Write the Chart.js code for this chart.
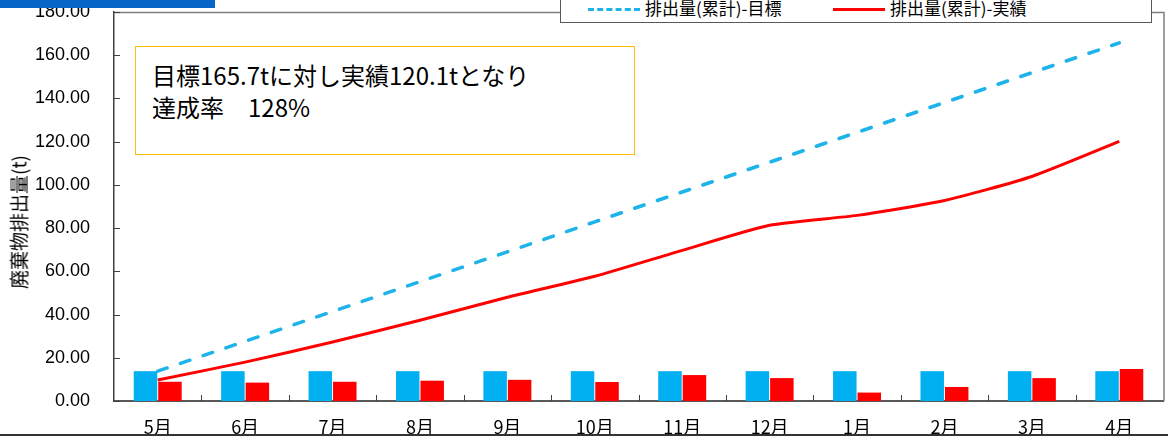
<!DOCTYPE html>
<html>
<head>
<meta charset="utf-8">
<script src="https://cdn.jsdelivr.net/npm/chart.js@4"></script>
<style>
  body { margin: 0; background: #fff; }
  #wrap { position: relative; width: 1168px; height: 436px; overflow: hidden; font-family: "Noto Sans CJK JP", "Noto Sans", sans-serif; }
  canvas { position: absolute; left: 0; top: 0; }
  .topbar { position: absolute; left: 0; top: 0; width: 215px; height: 8px; background: #0566c6; }
  .note { position: absolute; left: 135px; top: 46px; width: 498px; height: 107px; border: 1px solid #ffc000; background: #fff; }
  .note div { position: absolute; left: 16px; font-size: 24px; color: #000; white-space: nowrap; }
  .legend { position: absolute; left: 560px; top: -4px; width: 590px; height: 25px; border: 1px solid #595959; background: #fff; }
  .legend .item { position: absolute; top: 1px; font-size: 17px; line-height: 20px; white-space: nowrap; }
  .legend .dash { position: absolute; top: 11px; width: 52px; height: 0; border-top: 3px dashed #1eb4ea; }
  .legend .solid { position: absolute; top: 11px; width: 52px; height: 3px; background: #ff0000; }
  .ytitle { position: absolute; left: 18px; top: 222px; transform: translate(-50%, -50%) rotate(-90deg); font-size: 19px; white-space: nowrap; }
</style>
</head>
<body>
<div id="wrap">
  <canvas id="wasteChart" width="1168" height="436"></canvas>
  <div class="topbar"></div>
  <div class="legend">
    <span class="dash" style="left:27px"></span>
    <span class="item" style="left:84px">排出量(累計)-目標</span>
    <span class="solid" style="left:272px"></span>
    <span class="item" style="left:329px">排出量(累計)-実績</span>
  </div>
  <div class="note">
    <div style="top:10px">目標165.7tに対し実績120.1tとなり</div>
    <div style="top:42px">達成率　128%</div>
  </div>
  <div class="ytitle">廃棄物排出量(t)</div>
</div>
<script>
// 月
const months = ['5月', '6月', '7月', '8月', '9月', '10月', '11月', '12月', '1月', '2月', '3月', '4月'];

// 月別の排出量 (t)
const targetMonthly = [13.8, 13.8, 13.8, 13.8, 13.8, 13.8, 13.8, 13.8, 13.8, 13.8, 13.8, 13.8];
const actualMonthly = [8.9, 8.5, 8.9, 9.4, 9.8, 8.8, 12.0, 10.6, 3.9, 6.5, 10.6, 14.8];

// 累計 (t)
const targetCumulative = [13.8, 27.6, 41.4, 55.2, 69.0, 82.9, 96.7, 110.5, 124.3, 138.1, 151.9, 165.7];
const actualCumulative = [9.7, 18.0, 27.3, 37.4, 48.0, 57.7, 69.7, 81.3, 85.9, 92.8, 103.9, 120.1];

// 軸の目盛り
const yMin = 0;
const yMax = 180;
const yStep = 20;

// 枠線と内向きの目盛りを描く
const framePlugin = {
    id: 'frame',
    afterDraw(chart) {
        const c = chart.ctx;
        const a = chart.chartArea;
        const ys = chart.scales.y;
        c.save();
        c.strokeStyle = '#7f7f7f';
        c.lineWidth = 1.5;
        c.beginPath();
        c.moveTo(a.left, a.top + 0.5);
        c.lineTo(a.right + 1, a.top + 0.5);
        c.lineTo(a.right + 1, a.bottom);
        c.stroke();

        c.strokeStyle = '#404040';
        c.lineWidth = 1;
        ys.ticks.forEach((t) => {
            const y = Math.round(ys.getPixelForValue(t.value)) + 0.5;
            c.beginPath();
            c.moveTo(a.left, y);
            c.lineTo(a.left + 6, y);
            c.stroke();
        });
        const w = (a.right - a.left) / months.length;
        for (let i = 1; i < months.length; i++) {
            const x = Math.round(a.left + i * w) + 0.5;
            c.beginPath();
            c.moveTo(x, a.bottom);
            c.lineTo(x, a.bottom - 6);
            c.stroke();
        }

        // 下端の枠
        c.strokeStyle = '#333';
        c.lineWidth = 2;
        c.beginPath();
        c.moveTo(0, 435);
        c.lineTo(1168, 435);
        c.stroke();
        c.restore();
    }
};

const ctx = document.getElementById('wasteChart').getContext('2d');

const wasteChart = new Chart(ctx, {
    type: 'bar',
    data: {
        labels: months,
        datasets: [
            {
                type: 'line',
                label: '排出量(累計)-目標',
                data: targetCumulative,
                borderColor: '#1eb4ea',
                borderWidth: 3.5,
                borderDash: [10, 14],
                borderCapStyle: 'round',
                pointRadius: 0,
                fill: false,
                order: 0
            },
            {
                type: 'line',
                label: '排出量(累計)-実績',
                data: actualCumulative,
                borderColor: '#ff0000',
                borderWidth: 3,
                pointRadius: 0,
                tension: 0.2,
                fill: false,
                order: 0
            },
            {
                label: '目標',
                data: targetMonthly,
                backgroundColor: '#00b0f0',
                categoryPercentage: 0.56,
                barPercentage: 0.96,
                order: 1
            },
            {
                label: '実績',
                data: actualMonthly,
                backgroundColor: '#ff0000',
                categoryPercentage: 0.56,
                barPercentage: 0.96,
                order: 1
            }
        ]
    },
    options: {
        responsive: false,
        animation: false,
        layout: {
            padding: { top: 12, right: 5, bottom: 0, left: 0 }
        },
        plugins: {
            legend: { display: false },
            tooltip: { enabled: false }
        },
        scales: {
            x: {
                grid: { display: false, drawTicks: false },
                border: { color: '#595959', width: 2 },
                ticks: {
                    color: '#000',
                    padding: 15,
                    font: { family: '"Noto Sans CJK JP", sans-serif', size: 18 }
                },
                afterFit: function(scale) {
                    scale.height = 35;
                    scale.paddingLeft = 0;
                    scale.paddingRight = 0;
                }
            },
            y: {
                min: yMin,
                max: yMax,
                grid: { display: false, drawTicks: false },
                border: { color: '#404040', width: 1.5 },
                ticks: {
                    stepSize: yStep,
                    color: '#000',
                    padding: 24,
                    font: { family: '"Liberation Sans", Arial, sans-serif', size: 18 },
                    callback: function(value) {
                        return value.toFixed(2);
                    }
                },
                afterFit: function(scale) {
                    scale.width = 114;
                    scale.paddingTop = 0;
                    scale.paddingBottom = 0;
                }
            }
        }
    },
    plugins: [framePlugin]
});
</script>
</body>
</html>
